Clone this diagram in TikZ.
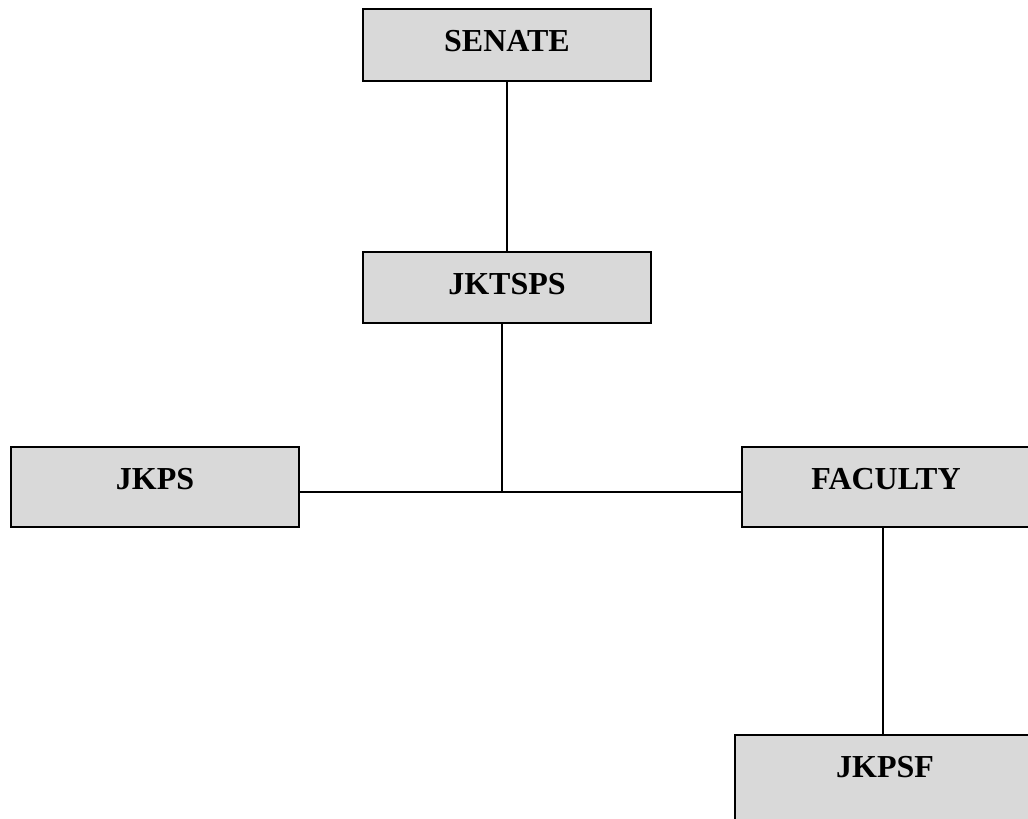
\documentclass[tikz,border=0pt]{standalone}
\usepackage{fontspec}
\setmainfont{Liberation Serif}
\definecolor{boxgray}{RGB}{217,217,217}
\begin{document}
\begin{tikzpicture}[x=1pt,y=-1pt,
  orgbox/.style={draw=black, fill=boxgray, line width=2pt, inner sep=0pt, outer sep=0pt,
    minimum width=288pt, text height=42pt, anchor=north,
    font=\fontsize{32}{38}\selectfont\bfseries},
  link/.style={draw=black, line width=1.8pt}]
\useasboundingbox[fill=white] (0,0) rectangle (1028,819);
\node[orgbox, text depth=30pt] (senate) at (507,9) {SENATE};
\node[orgbox, text depth=29pt] (jktsps) at (507,252) {JKTSPS};
\node[orgbox, text depth=38pt] (jkps) at (155,447) {JKPS};
\node[orgbox, text depth=38pt] (faculty) at (886,447) {FACULTY};
\node[orgbox, text depth=50pt, minimum width=300pt] (jkpsf) at (885,735) {JKPSF};
\coordinate (junction) at (502,492);
\coordinate (drop) at (883,600);
\draw[link] (senate.south) -- (jktsps.north);
\draw[link] (jktsps.south -| junction) -- (junction);
\draw[link] (jkps.east |- junction) -- (faculty.west |- junction);
\draw[link] (faculty.south -| drop) -- (jkpsf.north -| drop);
\end{tikzpicture}
\end{document}
